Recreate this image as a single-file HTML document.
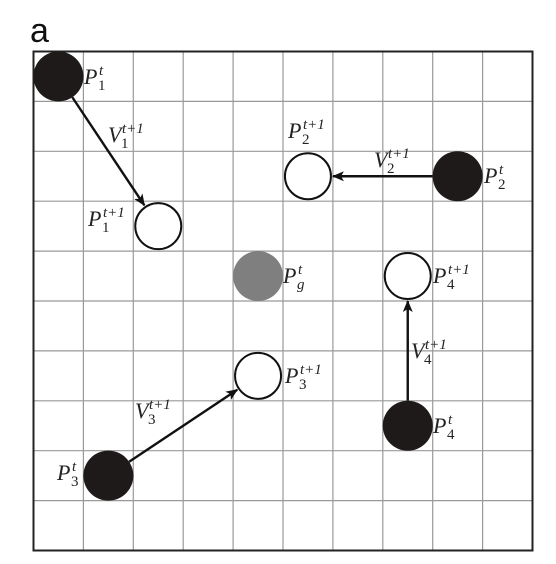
<!DOCTYPE html>
<html><head><meta charset="utf-8"><style>
html,body{margin:0;padding:0;background:#fff;}
svg{display:block;}
text{font-family:"Liberation Serif",serif;font-style:italic;fill:#222;}
</style></head><body>
<svg id="c" width="556" height="564" viewBox="0 0 556 564">
<defs><marker id="ah" markerWidth="12" markerHeight="10" refX="11" refY="5" orient="auto" markerUnits="userSpaceOnUse"><path d="M0,0 L12,5 L0,10 L3,5 Z" fill="#111"/></marker></defs>
<text x="30" y="42" style="font-family:'Liberation Sans',sans-serif;font-style:normal;font-size:34px;fill:#111">a</text>
<g id="grid"></g>
<g id="arrows"></g>
<g id="pts"></g>
<g id="labels"></g>
</svg>
<script>
const gridN = 10;
const particleCols = [0.5, 2.5, 5.5, 8.5, 4.5, 7.5, 4.5, 7.5, 1.5];
const particleRows = [0.5, 3.5, 2.5, 2.5, 4.5, 4.5, 6.5, 7.5, 8.5];
const particleKinds = ["cur","next","next","cur","best","next","next","cur","cur"];
const particleNames = ["p1-t","p1-t1","p2-t1","p2-t","pg-t","p4-t1","p3-t1","p4-t","p3-t"];
const arrowFrom = [0,3,8,7];
const arrowTo = [1,2,6,5];
const labelMain = ["P","V","P","V","P","P","P","P","V","P","V","P","P"];
const labelSub = ["1","1","2","2","2","1","g","4","4","3","3","4","3"];
const labelSup = ["t","t+1","t+1","t+1","t","t+1","t","t+1","t+1","t+1","t+1","t","t"];
const labelX = [84,108,288,374,484,88,283,433,411,285,135,433,57];
const labelY = [84,142,138,167,183,226,283,283,358,383,418,433,480];
const labelNames = ["label-p1-t","label-v1","label-p2-t1","label-v2","label-p2-t","label-p1-t1","label-pg","label-p4-t1","label-v4","label-p3-t1","label-v3","label-p4-t","label-p3-t"];

const x0=33.5,y0=51.5,cell=49.9;
const sx=c=>x0+c*cell, sy=r=>y0+r*cell;
const NS="http://www.w3.org/2000/svg";
function mk(t,a,p){const e=document.createElementNS(NS,t);for(const k in a)e.setAttribute(k,a[k]);p.appendChild(e);return e;}
const G=document.getElementById('grid');
for(let i=1;i<gridN;i++){
 let l=mk('line',{x1:sx(i),y1:sy(0),x2:sx(i),y2:sy(gridN),stroke:'#999','stroke-width':1.2},G);
 
 
 l=mk('line',{x1:sx(0),y1:sy(i),x2:sx(gridN),y2:sy(i),stroke:'#999','stroke-width':1.2},G);
 
 
}
const fr=mk('rect',{x:sx(0),y:sy(0),width:gridN*cell,height:gridN*cell,fill:'none',stroke:'#222','stroke-width':2},G);



const A=document.getElementById('arrows');
for(let i=0;i<arrowFrom.length;i++){
 const a=arrowFrom[i],b=arrowTo[i];
 const ax=sx(particleCols[a]),ay=sy(particleRows[a]),bx=sx(particleCols[b]),by=sy(particleRows[b]);
 const d=Math.hypot(bx-ax,by-ay),ux=(bx-ax)/d,uy=(by-ay)/d;
 const l=mk('line',{x1:ax+ux*25,y1:ay+uy*25,x2:bx-ux*25,y2:by-uy*25,stroke:'#111','stroke-width':2.4,'marker-end':'url(#ah)'},A);
 
 
}
const P=document.getElementById('pts');
for(let i=0;i<particleCols.length;i++){
 const k=particleKinds[i];
 const attrs={cx:sx(particleCols[i]),cy:sy(particleRows[i])};
 if(k==='cur'){attrs.r=25;attrs.fill='#1e1a1a';}
 else if(k==='best'){attrs.r=25;attrs.fill='#7f7f7f';}
 else{attrs.r=23;attrs.fill='#fff';attrs.stroke='#111';attrs['stroke-width']=2;}
 const c=mk('circle',attrs,P);
 
 
}
const L=document.getElementById('labels');
for(let i=0;i<labelMain.length;i++){
 const g=mk('g',{},L);
 
 
 const x=labelX[i],y=labelY[i];
 const m=mk('text',{x:x,y:y,'font-size':22},g);m.textContent=labelMain[i];
 const ox=labelMain[i]==='P'?15:14;
 const s=mk('text',{x:x+ox,y:y-9,'font-size':15},g);s.textContent=labelSup[i];
 const b=mk('text',{x:x+ox-1,y:y+6,'font-size':15,style:'font-style:'+(labelSub[i]==='g'?'italic':'normal')},g);b.textContent=labelSub[i];
}
</script>
</body></html>
